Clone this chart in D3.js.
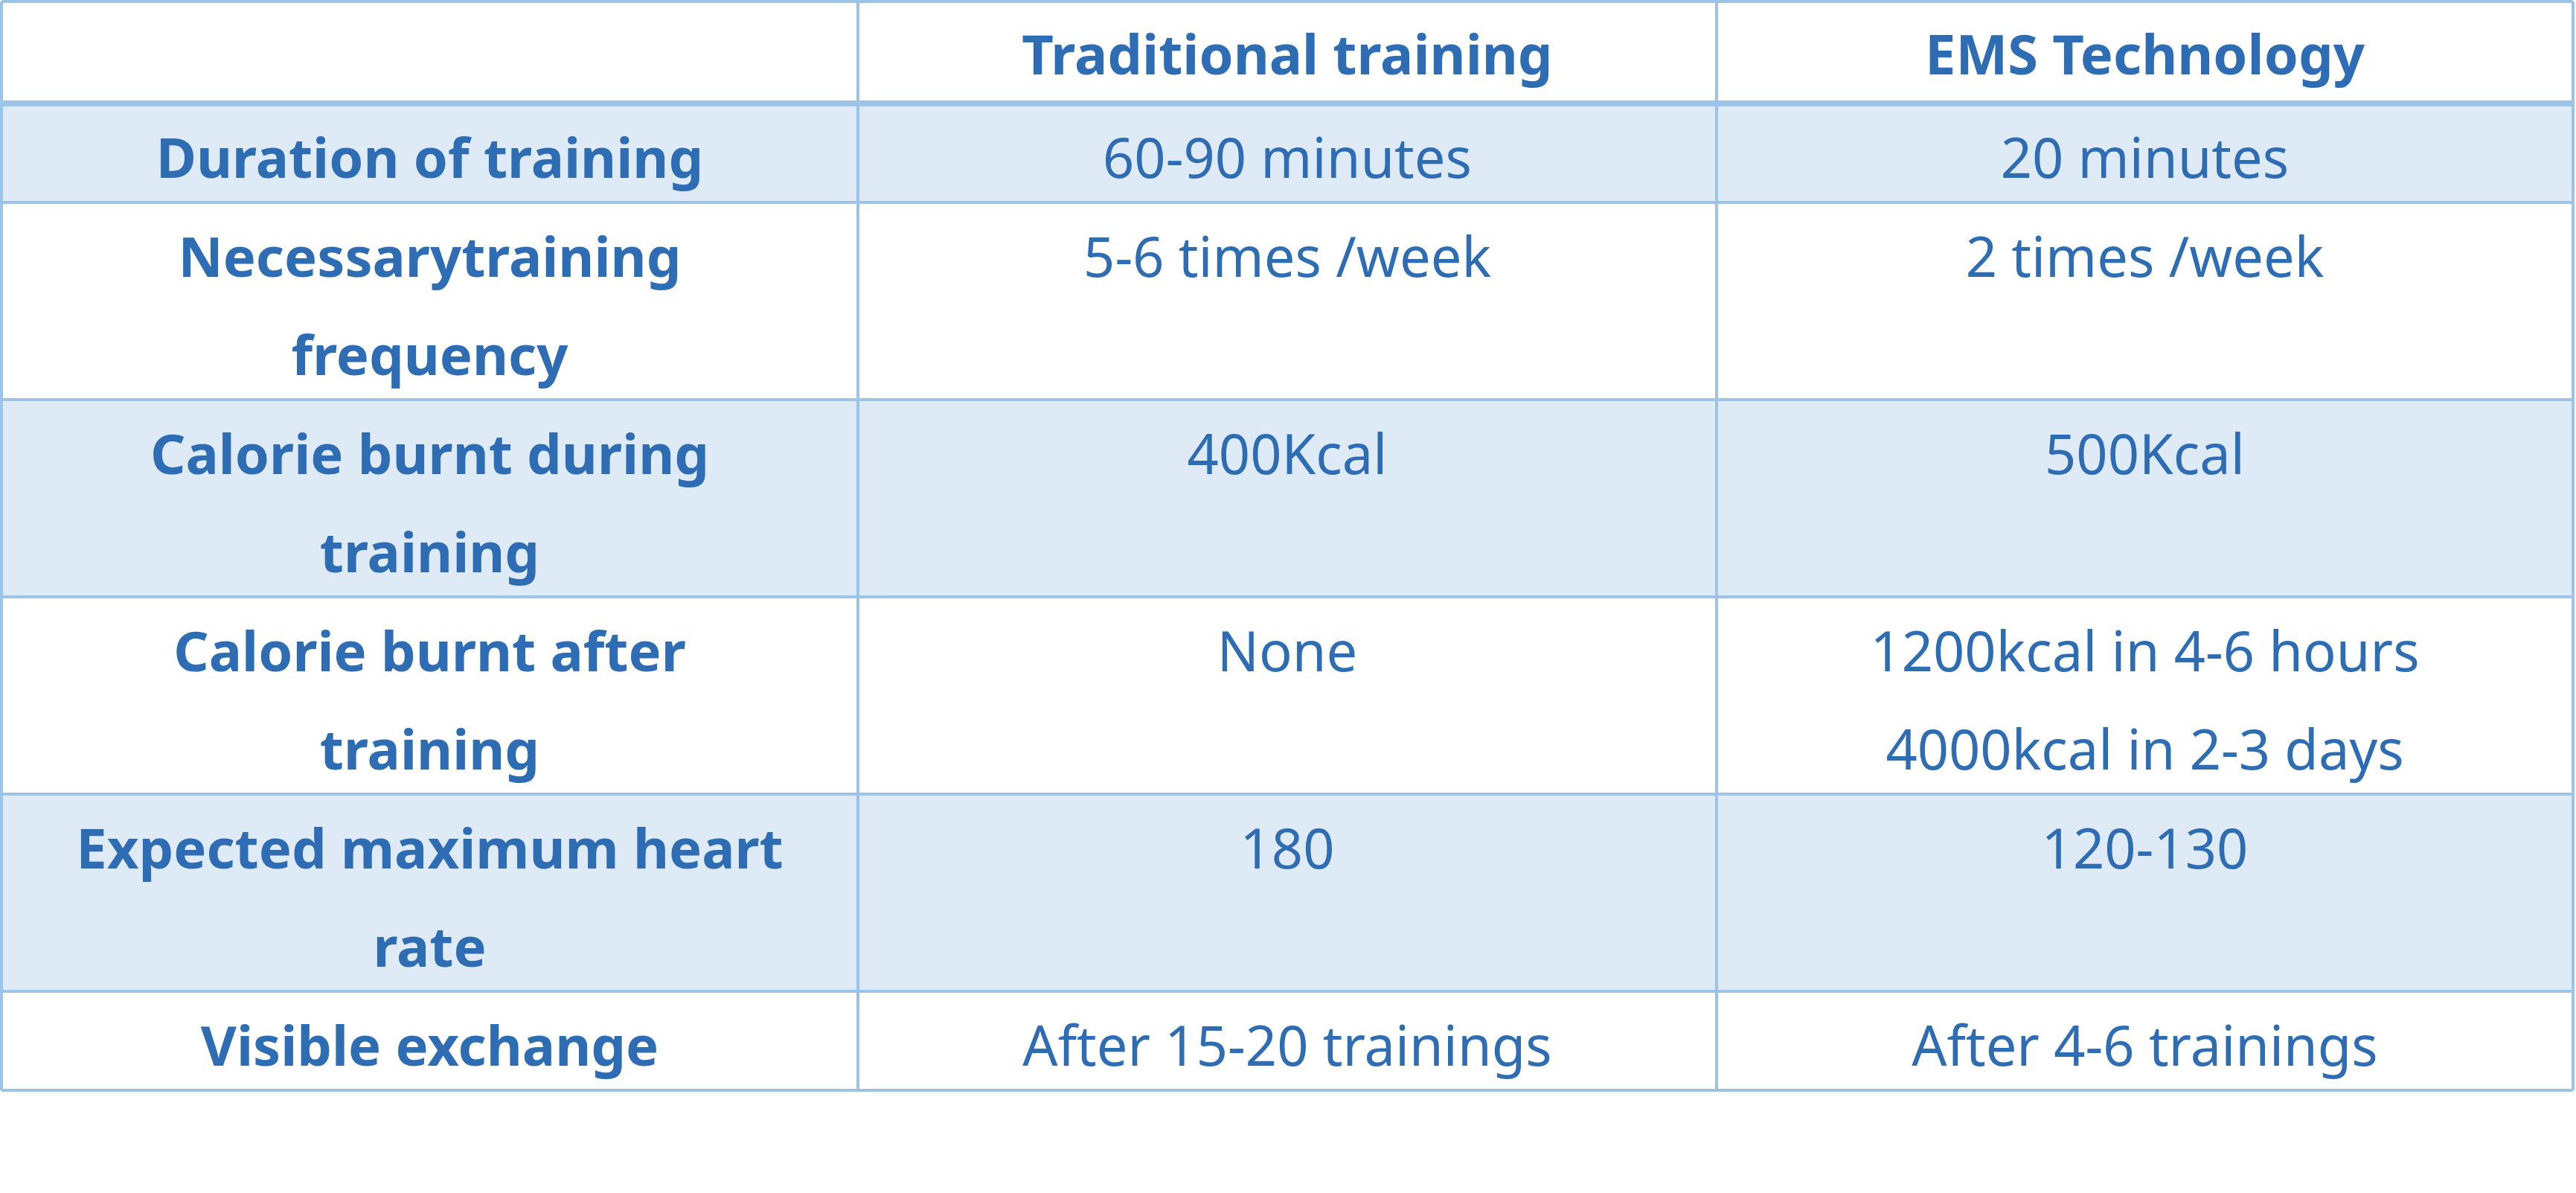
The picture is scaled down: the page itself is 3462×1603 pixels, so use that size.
<!DOCTYPE html>
<html>
<head>
<meta charset="utf-8">
<script src="https://cdn.jsdelivr.net/npm/d3@7"></script>
<style>
  body { margin: 0; background: #fff; }
  svg { display: block; }
</style>
</head>
<body>
<div id="table"></div>
<script>
// table content
var columns = ["", "Traditional training", "EMS Technology"];
var rowLabels = [
  ["Duration of training"],
  ["Necessarytraining", "frequency"],
  ["Calorie burnt during", "training"],
  ["Calorie burnt after", "training"],
  ["Expected maximum heart", "rate"],
  ["Visible exchange"]
];
var traditional = [["60-90 minutes"], ["5-6 times /week"], ["400Kcal"], ["None"], ["180"], ["After 15-20 trainings"]];
var ems = [["20 minutes"], ["2 times /week"], ["500Kcal"], ["1200kcal in 4-6 hours", "4000kcal in 2-3 days"], ["120-130"], ["After 4-6 trainings"]];
var rowLines = [1, 2, 2, 2, 2, 1];
var shaded = [true, false, true, false, true, false];

var svgWidth = 3462, svgHeight = 1603;
var textColor = "#2E6DB4", borderColor = "#9DC3E6", fillColor = "#DEEAF6";
var fontSize = 74, lineH = 132;

var svg = d3.select("#table").append("svg")
  .attr("width", svgWidth).attr("height", svgHeight);

// column scale
var x = d3.scaleOrdinal().domain([0, 1, 2, 3]).range([2, 1153, 2307, 3458]);

// row edges
var headerH = 139;
var edges = [2, headerH];
rowLines.forEach(function(n) { edges.push(edges[edges.length - 1] + (n === 1 ? 133 : 265)); });
var y = d3.scaleOrdinal().domain(d3.range(edges.length)).range(edges);

// shaded backgrounds
svg.append("g").selectAll("rect")
  .data(shaded.map(function(s, i) { return {s: s, i: i}; }).filter(d => d.s))
  .enter().append("rect")
  .attr("x", x(0)).attr("width", x(3) - x(0))
  .attr("y", d => y(d.i + 1)).attr("height", d => y(d.i + 2) - y(d.i + 1))
  .attr("fill", fillColor);

// grid lines
var grid = svg.append("g").attr("stroke", borderColor);
grid.selectAll("line.h").data(d3.range(edges.length)).enter().append("line")
  .attr("x1", x(0)).attr("x2", x(3))
  .attr("y1", d => y(d)).attr("y2", d => y(d))
  .attr("stroke-width", d => d === 1 ? 8 : 4);
grid.selectAll("line.v").data([0, 1, 2, 3]).enter().append("line")
  .attr("x1", d => x(d)).attr("x2", d => x(d))
  .attr("y1", y(0)).attr("y2", y(edges.length - 1))
  .attr("stroke-width", 4);

function cell(lines, col, top, bold) {
  var cx = (x(col) + x(col + 1)) / 2;
  var t = svg.append("text")
    .attr("text-anchor", "middle")
    .attr("font-family", "'Noto Sans', sans-serif")
    .attr("font-size", fontSize)
    .attr("font-weight", bold ? "bold" : "normal")
    .attr("fill", textColor);
  lines.forEach(function(l, i) {
    t.append("tspan").attr("x", cx).attr("y", top + 100 + i * lineH).text(l);
  });
}

columns.forEach(function(c, i) { if (c) cell([c], i, y(0) - 2, true); });
rowLabels.forEach(function(r, i) {
  var top = y(i + 1);
  cell(r, 0, top, true);
  cell(traditional[i], 1, top, false);
  cell(ems[i], 2, top, false);
});
</script>
</body>
</html>
